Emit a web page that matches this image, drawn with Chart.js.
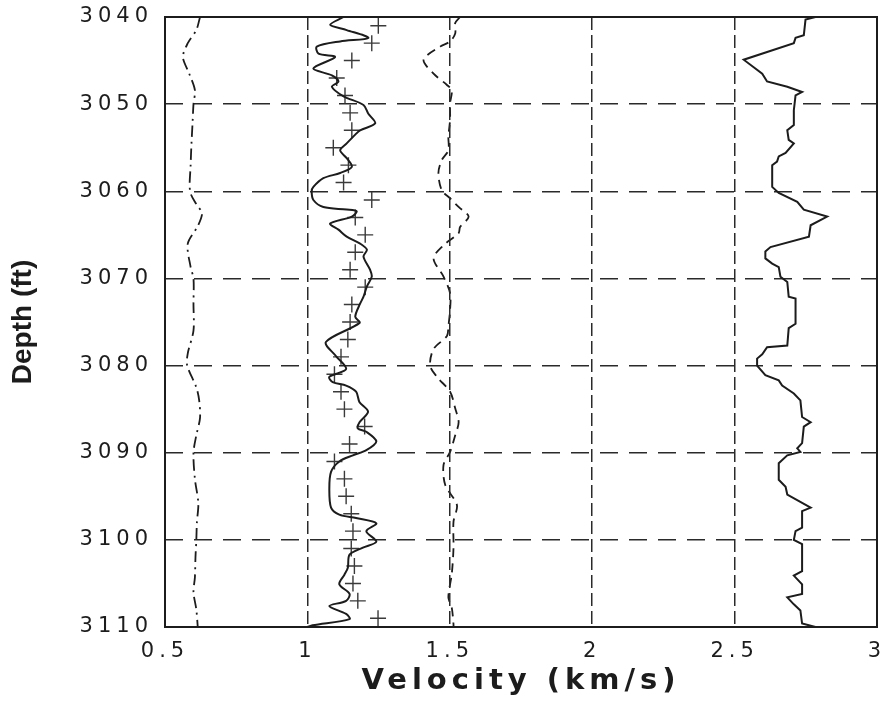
<!DOCTYPE html>
<html>
<head>
<meta charset="utf-8">
<script src="https://cdn.jsdelivr.net/npm/chart.js@4.4.1/dist/chart.umd.min.js"></script>
<style>
  html, body { margin: 0; padding: 0; background: #ffffff; }
  #wrap { width: 888px; height: 702px; }
</style>
</head>
<body>
<div id="wrap"><canvas id="c" width="888" height="702"></canvas></div>
<script>
// ---- data (depth in ft, velocity in km/s) ----
const depthA = [3040,3041.5,3043,3044.6,3046.5,3048.4,3050,3052,3054.5,3057,3060,3061.5,3062.5,3064,3066,3068.7,3070,3073,3076,3078.6,3080,3082.5,3084,3086,3088,3090,3093,3095.8,3098,3100,3102,3104.3,3106,3108,3110];
const velA   = [0.623,0.61,0.58,0.563,0.585,0.605,0.60,0.597,0.593,0.59,0.588,0.61,0.63,0.615,0.58,0.59,0.60,0.60,0.60,0.58,0.578,0.61,0.62,0.623,0.61,0.60,0.605,0.617,0.612,0.61,0.607,0.605,0.60,0.61,0.615];

const depthB = [3040,3040.9,3041.5,3042.4,3042.8,3043.4,3044.2,3044.6,3045.9,3046.7,3047.4,3048.0,3049.1,3050.1,3051.1,3052.2,3053.0,3053.5,3054.5,3055.3,3056.2,3057.2,3057.9,3058.5,3059.5,3060.0,3061.0,3061.8,3062.1,3062.3,3062.9,3063.7,3064.4,3065.2,3066.0,3066.7,3067.5,3069.0,3069.8,3070.9,3072.1,3072.9,3074.4,3075.1,3077.3,3078.9,3080.4,3081.3,3081.9,3082.3,3083.0,3084.2,3085.3,3086.5,3087.2,3087.6,3088.7,3089.7,3090.3,3091.0,3092.2,3094.1,3096.3,3097.1,3097.5,3098.1,3099.0,3100.2,3100.9,3101.7,3103.2,3104.0,3105.1,3106.2,3107.0,3107.6,3108.5,3109.1,3109.8,3110];
const velB   = [1.127,1.080,1.138,1.214,1.115,1.033,1.039,1.097,1.021,1.086,1.109,1.086,1.127,1.197,1.214,1.238,1.185,1.168,1.138,1.115,1.138,1.156,1.115,1.056,1.021,1.015,1.021,1.056,1.138,1.173,1.156,1.080,1.109,1.138,1.185,1.209,1.197,1.220,1.226,1.209,1.197,1.185,1.168,1.183,1.065,1.100,1.136,1.077,1.089,1.136,1.171,1.183,1.213,1.183,1.177,1.207,1.242,1.207,1.160,1.112,1.083,1.077,1.083,1.112,1.171,1.242,1.207,1.242,1.195,1.148,1.142,1.130,1.112,1.148,1.136,1.077,1.136,1.148,1.018,1.000];

const depthM = [3041,3043,3045,3047,3049,3051,3053,3055,3057,3059,3061,3063,3065,3067,3069,3071,3073,3075,3077,3079,3081,3083,3085,3087,3089,3091,3093,3095,3097,3099,3101,3103,3105,3107,3109];
const velM   = [1.249,1.226,1.156,1.103,1.132,1.150,1.156,1.091,1.144,1.127,1.226,1.168,1.203,1.168,1.150,1.203,1.156,1.150,1.142,1.118,1.095,1.118,1.130,1.201,1.148,1.095,1.130,1.136,1.154,1.160,1.154,1.165,1.160,1.177,1.248];

const depthC = [3040,3040.7,3041.9,3042.8,3043.4,3044.9,3046.5,3047.8,3048.4,3049.9,3051.8,3053.7,3055.3,3056.4,3057.9,3059.9,3060.8,3061.8,3062.9,3064.1,3064.8,3066.2,3067.7,3069.8,3071.7,3073.6,3075.5,3076.6,3078.1,3080,3081.3,3083.0,3084.9,3086.5,3088.0,3089.9,3091.4,3093.7,3096.0,3097.9,3100.9,3103.9,3106.6,3107.8,3109.7,3110];
const velC   = [1.536,1.519,1.519,1.501,1.466,1.408,1.443,1.490,1.507,1.501,1.501,1.495,1.495,1.472,1.460,1.472,1.501,1.531,1.566,1.536,1.531,1.478,1.443,1.478,1.501,1.501,1.495,1.490,1.443,1.431,1.455,1.501,1.519,1.531,1.519,1.501,1.478,1.484,1.525,1.513,1.513,1.507,1.495,1.507,1.513,1.513];

const depthD = [3040,3040.3,3042.1,3042.4,3043.0,3044.9,3046.5,3047.4,3048.0,3048.6,3049.0,3050.7,3052.4,3053.0,3054.1,3054.5,3055.6,3056.0,3056.6,3057.0,3059.5,3060.2,3061.2,3062.1,3062.9,3063.9,3065.2,3066.4,3066.9,3067.7,3068.3,3068.7,3069.8,3070.4,3072.1,3072.3,3075.2,3075.7,3077.7,3077.9,3078.7,3079.2,3080,3081.1,3081.7,3082.3,3083.2,3084.0,3085.9,3086.5,3087.0,3088.9,3089.5,3089.9,3090.3,3091.2,3093.1,3093.9,3094.8,3096.3,3096.7,3098.6,3099.0,3100.0,3100.5,3103.6,3104.1,3105.1,3106.2,3106.6,3107.4,3108.1,3109.6,3110];
const velD   = [2.784,2.749,2.743,2.714,2.708,2.532,2.597,2.614,2.685,2.737,2.714,2.708,2.708,2.685,2.690,2.708,2.679,2.655,2.649,2.632,2.632,2.655,2.720,2.743,2.825,2.767,2.761,2.626,2.608,2.608,2.632,2.655,2.661,2.685,2.690,2.714,2.714,2.690,2.685,2.614,2.597,2.579,2.579,2.608,2.655,2.667,2.708,2.731,2.737,2.767,2.743,2.737,2.720,2.731,2.685,2.655,2.655,2.679,2.685,2.767,2.737,2.737,2.714,2.708,2.737,2.737,2.708,2.737,2.737,2.685,2.708,2.731,2.737,2.784];

const xMin = 0.5, xMax = 3, xStep = 0.5;
const yMin = 3040, yMax = 3110, yStep = 10;
const xTitle = 'Velocity (km/s)';
const yTitle = 'Depth (ft)';

// ---- build ----
const pts = (d, v) => d.map((dep, i) => ({ x: v[i], y: dep }));
const INK = '#1c1c1c';

const textSpacing = {
  id: 'textSpacing',
  beforeDraw(chart) { chart.ctx.letterSpacing = '0px'; },
  afterDatasetsDraw(chart) { chart.ctx.letterSpacing = '5px'; },
  afterDraw(chart) {
    const { ctx, chartArea: a } = chart;
    ctx.letterSpacing = '0px';
    ctx.save();
    ctx.setLineDash([]);
    ctx.strokeStyle = INK;
    ctx.lineWidth = 2;
    ctx.strokeRect(a.left, a.top, a.right - a.left, a.bottom - a.top);
    ctx.restore();
  }
};

new Chart(document.getElementById('c'), {
  type: 'scatter',
  data: {
    datasets: [
      { label: 'A', data: pts(depthA, velA), showLine: true, borderColor: INK, borderWidth: 1.8,
        borderDash: [11, 5, 2, 5], pointRadius: 0, tension: 0.3, fill: false },
      { label: 'B', data: pts(depthB, velB), showLine: true, borderColor: INK, borderWidth: 2,
        pointRadius: 0, tension: 0.3, fill: false },
      { label: 'M', data: pts(depthM, velM), showLine: false, borderColor: '#3a3a3a', backgroundColor: '#3a3a3a',
        pointStyle: 'cross', pointRadius: 8, pointBorderWidth: 1.4 },
      { label: 'C', data: pts(depthC, velC), showLine: true, borderColor: INK, borderWidth: 1.8,
        borderDash: [9, 6], pointRadius: 0, tension: 0.3, fill: false },
      { label: 'D', data: pts(depthD, velD), showLine: true, borderColor: INK, borderWidth: 2,
        pointRadius: 0, tension: 0, fill: false }
    ]
  },
  options: {
    responsive: false,
    animation: false,
    devicePixelRatio: 1,
    layout: { padding: { top: 17, right: 11, left: 0, bottom: 0 } },
    plugins: { legend: { display: false }, tooltip: { enabled: false } },
    scales: {
      x: {
        type: 'linear', position: 'bottom', min: xMin, max: xMax,
        afterFit(s) { s.height = 75; s.paddingLeft = 0; s.paddingRight = 0; },
        ticks: { stepSize: xStep, color: INK, padding: 12, z: 1,
                 callback: (v) => String(v),
                 font: { family: 'DejaVu Sans', size: 21 } },
        grid: { color: '#2a2a2a', lineWidth: 1.5, drawTicks: false, z: 1 },
        border: { display: false, dash: [13, 5] },
        title: { display: true, text: xTitle, color: INK,
                 font: { family: 'DejaVu Sans', size: 29, weight: 'bold' },
                 padding: { top: 0, bottom: 3 } }
      },
      y: {
        type: 'linear', position: 'left', min: yMin, max: yMax, reverse: true,
        afterFit(s) { s.width = 165; s.paddingTop = 0; s.paddingBottom = 0; },
        ticks: { stepSize: yStep, color: INK, padding: 12, z: 1,
                 callback: (v) => String(v),
                 font: { family: 'DejaVu Sans', size: 21 } },
        grid: { color: '#2a2a2a', lineWidth: 1.5, drawTicks: false },
        border: { display: false, dash: [18, 11] },
        title: { display: true, text: yTitle, color: INK,
                 font: { family: 'Liberation Sans', size: 28, weight: 'bold' },
                 padding: { top: 6, bottom: 0 } }
      }
    }
  },
  plugins: [textSpacing]
});
</script>
</body>
</html>
